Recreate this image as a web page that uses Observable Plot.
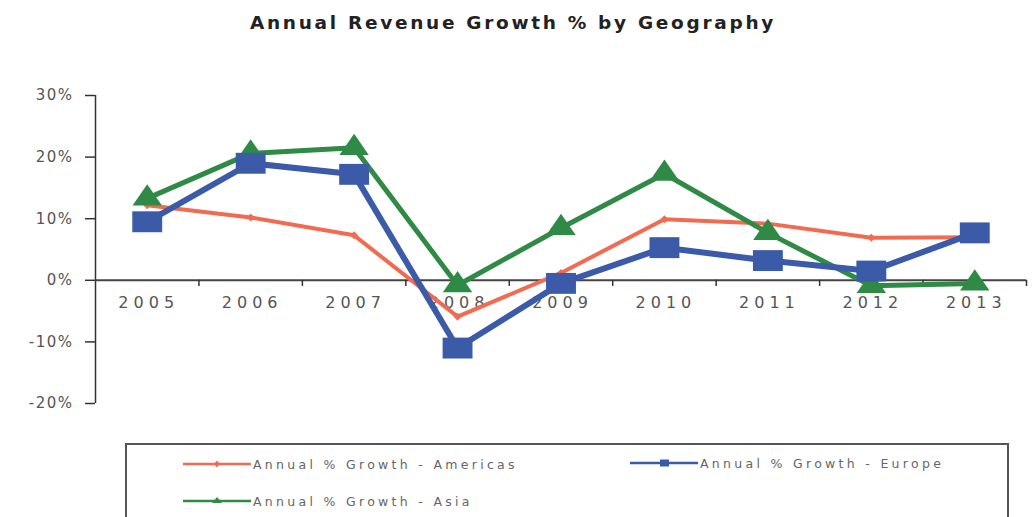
<!DOCTYPE html>
<html>
<head>
<meta charset="utf-8">
<script src="https://cdn.jsdelivr.net/npm/d3@7"></script>
<script src="https://cdn.jsdelivr.net/npm/@observablehq/plot@0.6"></script>
<style>
  html, body { margin: 0; padding: 0; background: #fff; }
  #wrap { position: relative; width: 1033px; height: 517px; overflow: hidden; background: #fff; }
  #title { position: absolute; top: 12px; left: 0; width: 1026px; text-align: center;
           font-family: "DejaVu Sans", sans-serif; font-weight: bold; font-size: 18.5px;
           letter-spacing: 2.7px; color: #222; }
  #chart { position: absolute; top: 55px; left: 0; }
  #legend { position: absolute; top: 443px; left: 125px; width: 884px; height: 100px;
            border: 2px solid #555; box-sizing: border-box; }
  .item { position: absolute; display: flex; align-items: center;
          font-family: "DejaVu Sans", sans-serif; font-size: 12.5px; letter-spacing: 3.3px; color: #666; }
  .item svg { display: block; }
</style>
</head>
<body>
<div id="wrap">
  <div id="title">Annual Revenue Growth % by Geography</div>
  <div id="chart"></div>
  <div id="legend"></div>
</div>
<script>
// ---- data ----
const years = [2005, 2006, 2007, 2008, 2009, 2010, 2011, 2012, 2013];
const americas = [12.2, 10.2, 7.3, -5.9, 1.2, 9.9, 9.2, 6.9, 7.0];
const europe = [9.5, 19.0, 17.2, -11.0, -0.5, 5.3, 3.2, 1.5, 7.7];
const asia = [13.3, 20.6, 21.5, -0.8, 8.5, 17.3, 7.7, -0.9, -0.5];
const seriesNames = ["Annual % Growth - Americas", "Annual % Growth - Europe", "Annual % Growth - Asia"];
const yTicks = [-20, -10, 0, 10, 20, 30];

// ---- styles ----
const colors = {Americas: "#f26a50", Europe: "#3b5ba8", Asia: "#2f8a46"};

const wideSquare = {draw(ctx, size) { const h = Math.sqrt(size); const w = h * 1.43; ctx.rect(-w / 2, -h / 2, w, h); }};
const wideTriangle = {draw(ctx, size) { const h = Math.sqrt(size); const w = h * 1.38;
  ctx.moveTo(0, -h * 2 / 3); ctx.lineTo(w / 2, h / 3); ctx.lineTo(-w / 2, h / 3); ctx.closePath(); }};
const smallDiamond = {draw(ctx, size) { const h = Math.sqrt(size);
  ctx.moveTo(0, -h / 2); ctx.lineTo(h / 2, 0); ctx.lineTo(0, h / 2); ctx.lineTo(-h / 2, 0); ctx.closePath(); }};

const rows = (name, vals) => years.map((yr, i) => ({year: yr, value: vals[i], series: name}));
const amData = rows("Americas", americas);
const euData = rows("Europe", europe);
const asData = rows("Asia", asia);

const bounds = years.slice(1).map(y => y - 0.5).concat([years[years.length - 1] + 0.5]);
const x0 = years[0] - 0.5, x1 = years[years.length - 1] + 0.5;

const chart = Plot.plot({
  width: 1033, height: 388,
  marginTop: 40, marginBottom: 40, marginLeft: 95, marginRight: 7,
  style: {fontFamily: "DejaVu Sans, sans-serif", background: "transparent"},
  x: {domain: [x0, x1], axis: null},
  y: {domain: [yTicks[0], yTicks[yTicks.length - 1]]},
  marks: [
    Plot.axisY({ticks: yTicks, tickFormat: d => `${d}%`, tickSize: 10, tickPadding: 12, label: null,
                fontSize: 15, stroke: "#333", fill: "#555", strokeWidth: 1.5}),
    Plot.ruleX([x0], {y1: yTicks[0], y2: yTicks[yTicks.length - 1], stroke: "#333", strokeWidth: 1.5}),
    Plot.ruleY([0], {stroke: "#444", strokeWidth: 2}),
    Plot.ruleX(bounds, {y1: 0, y2: -1, stroke: "#333", strokeWidth: 1.5}),
    Plot.text(years, {x: d => d, y: 0, dy: 23, dx: 1.5, text: d => String(d), fontSize: 16, fill: "#555"}),
    Plot.line(amData, {x: "year", y: "value", stroke: colors.Americas, strokeWidth: 4}),
    Plot.dot(amData, {x: "year", y: "value", symbol: smallDiamond, r: 4.5, fill: colors.Americas, stroke: "none"}),
    Plot.line(asData, {x: "year", y: "value", stroke: colors.Asia, strokeWidth: 5}),
    Plot.dot(asData, {x: "year", y: "value", symbol: wideTriangle, r: 12, fill: colors.Asia, stroke: "none"}),
    Plot.line(euData, {x: "year", y: "value", stroke: colors.Europe, strokeWidth: 6}),
    Plot.dot(euData, {x: "year", y: "value", symbol: wideSquare, r: 11.8, fill: colors.Europe, stroke: "none"})
  ]
});
d3.select(chart).selectAll("g[aria-label='y-axis tick label'] text").attr("letter-spacing", "1.5px");
d3.select(chart).selectAll("g[aria-label='text'] text").attr("letter-spacing", "5px");
document.getElementById("chart").appendChild(chart);

// ---- legend ----
const legend = document.getElementById("legend");
const legendItems = [
  {name: seriesNames[0], color: colors.Americas, sym: "diamond", left: 56, top: 9},
  {name: seriesNames[1], color: colors.Europe, sym: "square", left: 503, top: 8},
  {name: seriesNames[2], color: colors.Asia, sym: "triangle", left: 56, top: 46}
];
for (const it of legendItems) {
  const div = document.createElement("div");
  div.className = "item";
  div.style.left = it.left + "px";
  div.style.top = it.top + "px";
  const s = d3.create("svg").attr("width", 70).attr("height", 20);
  s.append("line").attr("x1", 0).attr("x2", 68).attr("y1", 10).attr("y2", 10)
    .attr("stroke", it.color).attr("stroke-width", 2.5);
  if (it.sym === "square") s.append("rect").attr("x", 30).attr("y", 6.5).attr("width", 9).attr("height", 7).attr("fill", it.color);
  if (it.sym === "triangle") s.append("path").attr("d", "M34,6 L39,12 L29,12 Z").attr("fill", it.color);
  if (it.sym === "diamond") s.append("path").attr("d", "M34,6.5 L37,10 L34,13.5 L31,10 Z").attr("fill", it.color);
  div.appendChild(s.node());
  const t = document.createElement("span");
  t.textContent = it.name;
  div.appendChild(t);
  legend.appendChild(div);
}
</script>
</body>
</html>
